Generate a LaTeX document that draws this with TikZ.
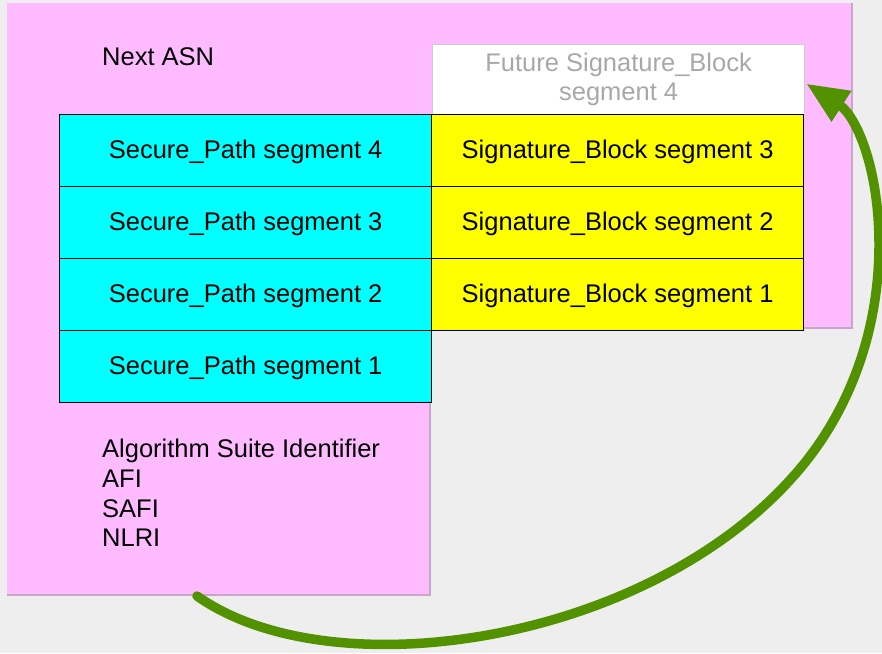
\documentclass[tikz,border=0pt]{standalone}
\usepackage{fontspec}
\setmainfont{Liberation Sans}
\usetikzlibrary{arrows.meta}
\definecolor{bg}{HTML}{EEEEEE}
\definecolor{pinkfill}{HTML}{FFBBFF}
\definecolor{pinkedge}{HTML}{C9A6C9}
\definecolor{cyanfill}{HTML}{00FFFF}
\definecolor{yellowfill}{HTML}{FFFF00}
\definecolor{arrowgreen}{HTML}{529200}
\definecolor{futgray}{HTML}{A8A8A8}
\definecolor{futedge}{HTML}{CCCCCC}
\begin{document}
\begin{tikzpicture}[x=1pt,y=-1pt,
  every node/.style={font=\fontsize{25.5}{29.6}\selectfont},
  segbox/.style={draw=black, line width=1.3pt, minimum width=372pt, minimum height=72pt, inner sep=0pt, text height=18.3pt, text depth=2pt, anchor=north west},
  spbox/.style={segbox, fill=cyanfill},
  sbbox/.style={segbox, fill=yellowfill},
  futbox/.style={draw=futedge, line width=1.2pt, fill=white, text=futgray, minimum width=372pt, minimum height=70pt, inner sep=0pt, anchor=north west, align=center},
  plain/.style={anchor=base west, inner sep=0pt, text=black},
  greenarrow/.style={draw=arrowgreen, line width=9.5pt, line cap=round, -{Triangle[length=42pt,width=34pt]}}
]
\useasboundingbox (0,0) rectangle (882,653);
\fill[bg] (0,0) rectangle (882,653);
% pink L-shaped region
\fill[pinkfill] (7,3) -- (852,3) -- (852,328) -- (430,328) -- (430,595) -- (7,595) -- cycle;
\draw[pinkedge, line width=1.2pt] (852,3) -- (852,328) -- (430,328) -- (430,595) -- (7,595);
% future box
\node[futbox] (fut) at (432,44) {Future Signature\_Block\\segment 4};
% secure path segments
\node[spbox] (sp4) at (59,114) {Secure\_Path segment 4};
\node[spbox] (sp3) at (59,186) {Secure\_Path segment 3};
\node[spbox] (sp2) at (59,258) {Secure\_Path segment 2};
\node[spbox] (sp1) at (59,330) {Secure\_Path segment 1};
% signature block segments
\node[sbbox] (sb3) at (431,114) {Signature\_Block segment 3};
\node[sbbox] (sb2) at (431,186) {Signature\_Block segment 2};
\node[sbbox] (sb1) at (431,258) {Signature\_Block segment 1};
% labels
\node[plain] (asn) at (102,65) {Next ASN};
\node[plain] (alg) at (102,457) {Algorithm Suite Identifier};
\node[plain] (afi) at (102,487) {AFI};
\node[plain] (safi) at (102,517) {SAFI};
\node[plain] (nlri) at (102,546) {NLRI};
% arrow
\coordinate (start) at (197,596);
\coordinate (curvemid) at (790,480);
\coordinate (curveright) at (879,245);
\coordinate (tipend) at ([shift={(1,4)}]fut.east);
\draw[greenarrow] (start) .. controls (330,690) and (640,645) .. (curvemid)
  .. controls (850,415) and (879,330) .. (curveright)
  .. controls (879,165) and (855,115) .. (tipend);
\end{tikzpicture}
\end{document}
